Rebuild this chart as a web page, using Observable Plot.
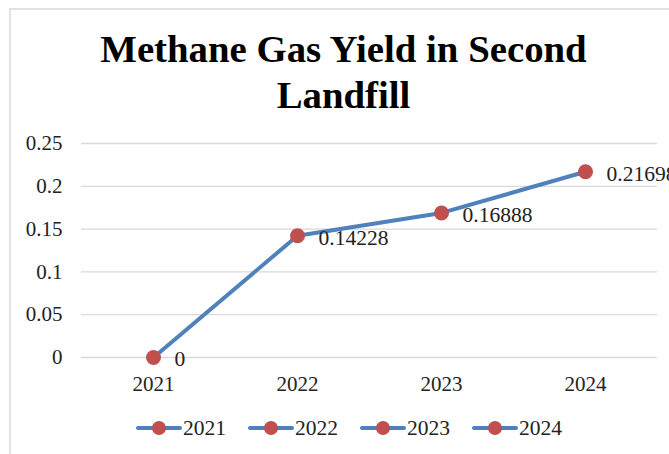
<!DOCTYPE html>
<html>
<head>
<meta charset="utf-8">
<script src="https://cdn.jsdelivr.net/npm/d3@7"></script>
<script src="https://cdn.jsdelivr.net/npm/@observablehq/plot@0.6"></script>
<style>
  html, body { margin: 0; padding: 0; background: #fff; overflow: hidden; }
  #wrap { position: relative; width: 669px; height: 454px; overflow: hidden; background: #fff;
          font-family: "Liberation Serif", "Times New Roman", serif; color: #222; }
  #frame { position: absolute; left: 9px; top: 8px; width: 700px; height: 500px;
           border-left: 2px solid #e2e2e2; border-top: 2px solid #e2e2e2; }
  #title { position: absolute; left: 9px; top: 26px; width: 669px; text-align: center;
           font-weight: bold; font-size: 38.8px; line-height: 46px; color: #000; white-space: nowrap; }
  #chart { position: absolute; left: 0; top: 120px; }
  #legend { position: absolute; left: 136px; top: 418px; height: 20px; display: flex; align-items: center; }
  .item { display: flex; align-items: center; margin-right: 22px; }
  .item svg { display: block; }
  .item span { font-size: 21.5px; margin-left: 1px; line-height: 20px; }
</style>
</head>
<body>
<div id="wrap">
  <div id="frame"></div>
  <div id="title">Methane Gas Yield in Second<br>Landfill</div>
  <div id="chart"></div>
  <div id="legend"></div>
</div>
<script>
const years = ["2021", "2022", "2023", "2024"];
const yields = [0, 0.14228, 0.16888, 0.21698];
const yTicks = [0, 0.05, 0.1, 0.15, 0.2, 0.25];
const yTickLabels = ["0", "0.05", "0.1", "0.15", "0.2", "0.25"];
const legendLabels = ["2021", "2022", "2023", "2024"];

const lineColor = "#4f81bd";
const dotColor = "#c0504d";

const data = years.map((year, i) => ({year, value: yields[i]}));

const chart = Plot.plot({
  width: 669,
  height: 290,
  marginLeft: 81,
  marginRight: 12,
  marginTop: 23,
  marginBottom: 53,
  style: {fontFamily: "'Liberation Serif', 'Times New Roman', serif", fontSize: "21px", color: "#222", background: "transparent", overflow: "visible"},
  x: {type: "point", domain: years, padding: 0.5, label: null},
  y: {domain: [0, 0.25], label: null},
  marks: [
    Plot.ruleY(yTicks, {stroke: "#d9d9d9", strokeWidth: 1.3}),
    Plot.axisY({ticks: yTicks, tickFormat: d => yTickLabels[yTicks.indexOf(d)], tickSize: 0, tickPadding: 19, fontSize: 21, label: null}),
    Plot.axisX({tickSize: 0, tickPadding: 19, fontSize: 21, label: null}),
    Plot.line(data, {x: "year", y: "value", stroke: lineColor, strokeWidth: 4}),
    Plot.dot(data, {x: "year", y: "value", r: 7.5, fill: dotColor, stroke: "none"}),
    Plot.text(data, {x: "year", y: "value", text: d => String(d.value), dx: 21, dy: 2, textAnchor: "start", fontSize: 21.5, fill: "#222"})
  ]
});
document.getElementById("chart").appendChild(chart);

const legend = d3.select("#legend");
legendLabels.forEach(label => {
  const item = legend.append("div").attr("class", "item");
  const svg = item.append("svg").attr("width", 46).attr("height", 16);
  svg.append("line").attr("x1", 2).attr("x2", 44).attr("y1", 8).attr("y2", 8)
    .attr("stroke", lineColor).attr("stroke-width", 4).attr("stroke-linecap", "round");
  svg.append("circle").attr("cx", 23).attr("cy", 8).attr("r", 7).attr("fill", dotColor);
  item.append("span").text(label);
});
</script>
</body>
</html>
